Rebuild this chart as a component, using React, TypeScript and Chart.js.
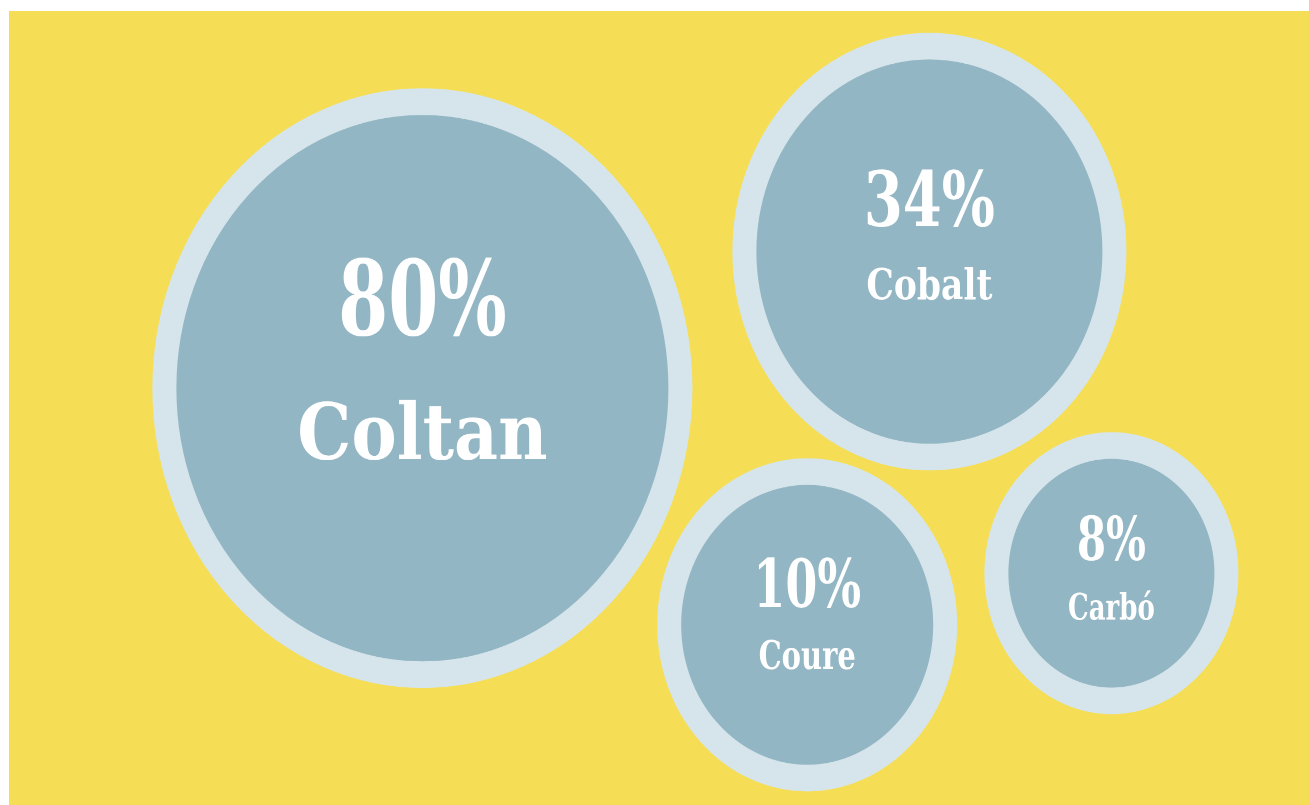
import React, { useEffect, useRef } from "react";
import { Chart, registerables } from "chart.js";

Chart.register(...registerables);

// ---- data ----
const minerals = ["Coltan", "Cobalt", "Coure", "Carbó"];
const percentages = [80, 34, 10, 8];
const posX = [31.8, 70.8, 61.4, 84.8];
const posY = [52.5, 69.7, 22.7, 29.2];
const bubbleSize = [258, 185, 138, 115];

// ---- styling (not data) ----
const YELLOW = "#f5de56";
const FILL = "#93b6c4";
const RING = "#d6e5eb";
const RING_WIDTH = 24;
const STRETCH_Y = 1.1105;
const FONT = '"DejaVu Serif", "Liberation Serif", serif';
const TEXT_STYLE = [
  { valueSize: 72, valueK: 1.3, valueDy: -48, labelSize: 68, labelK: 1.03, labelDy: 64 },
  { valueSize: 56, valueK: 1.22, valueDy: -23, labelSize: 34.5, labelK: 1.12, labelDy: 43 },
  { valueSize: 46, valueK: 1.3, valueDy: -16, labelSize: 29, labelK: 1.22, labelDy: 40 },
  { valueSize: 42, valueK: 1.3, valueDy: -12, labelSize: 26, labelK: 1.25, labelDy: 42 },
];

function drawStretched(ctx: CanvasRenderingContext2D, text: string, x: number, y: number, font: string, k: number) {
  ctx.save();
  ctx.translate(x, y);
  ctx.scale(1, k);
  ctx.font = font;
  ctx.fillText(text, 0, 0);
  ctx.restore();
}

const labelPlugin = {
  id: "bubbleLabels",
  afterDatasetsDraw(chart: any) {
    const ctx: CanvasRenderingContext2D = chart.ctx;
    const meta = chart.getDatasetMeta(0);
    meta.data.forEach((el: any, i: number) => {
      const st = TEXT_STYLE[i];
      const { x, y } = el.getProps(["x", "y"], true);
      ctx.save();
      ctx.fillStyle = "#ffffff";
      ctx.textAlign = "center";
      ctx.textBaseline = "alphabetic";
      drawStretched(ctx, `${percentages[i]}%`, x, y + st.valueDy, `bold ${st.valueSize}px ${FONT}`, st.valueK);
      drawStretched(ctx, minerals[i], x, y + st.labelDy, `bold ${st.labelSize}px ${FONT}`, st.labelK);
      ctx.restore();
    });
  },
};

export default function App() {
  const canvasRef = useRef<HTMLCanvasElement | null>(null);

  useEffect(() => {
    if (!canvasRef.current) return;
    const chart = new Chart(canvasRef.current, {
      type: "bubble",
      data: {
        labels: minerals,
        datasets: [
          {
            label: "Minerals",
            data: minerals.map((_, i) => ({ x: posX[i], y: posY[i], r: bubbleSize[i] })),
            backgroundColor: FILL,
            borderColor: RING,
            borderWidth: RING_WIDTH,
            hoverBackgroundColor: FILL,
            hoverBorderColor: RING,
            hoverBorderWidth: RING_WIDTH,
            hoverRadius: 0,
            clip: false as any,
          },
        ],
      },
      options: {
        animation: false,
        responsive: true,
        maintainAspectRatio: false,
        devicePixelRatio: 2,
        layout: { padding: 0, autoPadding: false },
        events: [],
        plugins: {
          legend: { display: false },
          tooltip: { enabled: false },
        },
        scales: {
          x: { type: "linear", min: 0, max: 100, display: false },
          y: { type: "linear", min: 0, max: 100, display: false },
        },
      },
      plugins: [labelPlugin],
    });
    return () => chart.destroy();
  }, []);

  return (
    <div
      style={{
        position: "absolute",
        left: 9,
        top: 11,
        width: 1300,
        height: 794,
        background: YELLOW,
        overflow: "hidden",
      }}
    >
      <div
        style={{
          position: "relative",
          width: 1300,
          height: 715,
          transform: `scaleY(${STRETCH_Y})`,
          transformOrigin: "0 0",
        }}
      >
        <canvas ref={canvasRef} />
      </div>
    </div>
  );
}
